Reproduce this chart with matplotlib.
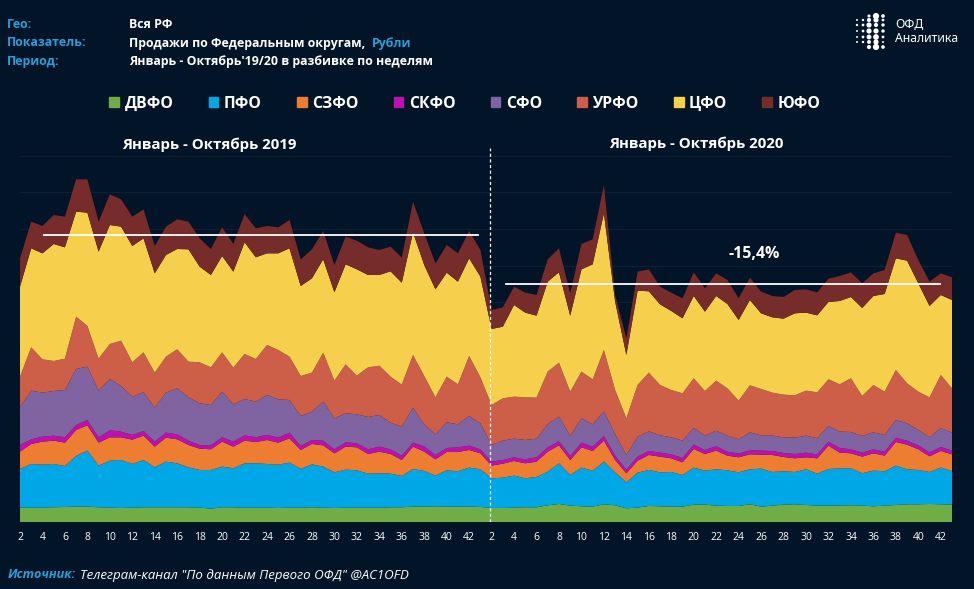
import numpy as np
import matplotlib
matplotlib.use('Agg')
import matplotlib.pyplot as plt
from matplotlib.patches import Patch

plt.rcParams['font.family'] = ['Open Sans', 'DejaVu Sans']

# no y axis on the source chart, so values are in arbitrary units
dvfo_19 = [44,44,44,45,46,47,47,45,44,43,44,45,45,45,45,45,44,41,45,45,44,44,44,43,44,44,45,44,43,44,44,44,44,45,45,47,47,48,47,47,47,46]
pfo_19 = [116,131,129,130,123,152,168,125,141,144,131,142,120,137,132,120,113,116,122,117,133,133,131,130,135,116,129,123,107,114,112,102,103,101,94,113,107,92,109,106,117,113]
szfo_19 = [52,60,69,70,70,78,76,69,70,68,73,73,62,72,72,67,64,62,75,65,68,64,72,66,73,57,61,64,57,69,69,59,65,59,48,67,58,49,55,58,53,48]
skfo_19 = [20,14,15,15,16,15,16,16,21,17,14,14,15,15,15,13,11,12,13,15,16,14,15,15,17,12,12,14,12,13,12,14,15,14,13,12,16,13,12,14,13,12]
sfo_19 = [113,146,132,134,142,168,160,140,154,137,115,116,102,120,138,130,125,121,137,112,109,107,120,115,98,90,85,117,93,87,87,97,95,80,87,104,66,62,77,69,89,78]
urfo_19 = [92,130,100,90,94,157,122,96,105,136,103,120,105,108,117,107,123,113,118,110,135,128,150,148,130,120,117,147,113,147,116,149,148,138,126,159,145,111,137,120,180,138]
cfo_19 = [270,297,318,351,334,315,340,321,357,342,349,342,298,305,301,337,287,277,289,288,335,305,275,290,325,270,283,280,265,300,319,277,272,316,306,368,333,324,312,308,293,302]
yufo_19 = [85,80,82,87,92,97,100,90,92,82,88,87,82,85,89,83,85,78,86,83,85,87,82,78,85,80,87,85,82,83,86,83,75,74,75,92,95,78,83,85,82,80]

dvfo_20 = [43,43,44,45,45,51,55,50,48,47,54,51,42,44,49,48,47,47,53,53,50,49,49,54,47,50,53,54,52,50,50,50,51,50,48,50,52,54,54,55,54,53]
pfo_20 = [89,91,96,87,91,101,122,92,116,108,128,99,78,105,108,102,104,95,111,102,109,107,101,105,114,101,100,97,107,96,110,112,111,97,107,103,118,105,103,96,110,101]
szfo_20 = [38,42,44,45,46,60,54,45,61,59,63,37,27,36,45,47,41,38,56,50,56,44,45,45,42,51,43,41,36,46,70,47,45,50,52,47,71,74,62,47,50,50]
skfo_20 = [12,11,11,12,13,13,12,12,14,13,14,13,11,12,12,12,12,13,13,12,13,12,11,12,12,12,12,13,14,12,12,14,12,12,12,12,12,12,12,12,12,11]
sfo_20 = [50,58,56,58,56,70,74,60,73,67,73,64,44,60,59,52,51,52,50,43,47,48,43,54,45,46,47,49,51,48,47,49,52,50,51,50,54,52,46,45,57,54]
urfo_20 = [120,127,126,128,123,157,162,133,140,135,185,133,110,155,176,151,142,142,149,134,150,142,116,141,140,129,128,127,135,138,140,142,161,120,142,130,150,120,115,120,159,133]
cfo_20 = [228,215,275,254,246,270,271,228,307,345,410,265,190,283,244,242,237,225,247,238,254,253,242,256,227,226,228,246,234,231,232,250,244,264,267,293,335,368,325,274,240,265]
yufo_20 = [57,58,55,60,62,67,72,67,76,75,85,20,50,57,66,53,55,60,71,70,68,72,65,67,65,64,65,70,70,69,70,75,74,74,68,72,77,77,70,73,65,68]

names = ['ДВФО', 'ПФО', 'СЗФО', 'СКФО', 'СФО', 'УРФО', 'ЦФО', 'ЮФО']
colors = ['#70ad47', '#00a7e7', '#ed7d31', '#c00fb0', '#8064a2', '#cd5f49', '#f6d04d', '#752c2a']
weeks = list(range(2, 44))
avg_19 = 862
avg_20 = 715
change = '-15,4%'

BG = '#021427'
BLUE = '#2a9fd6'

series = [dvfo_19 + dvfo_20, pfo_19 + pfo_20, szfo_19 + szfo_20, skfo_19 + skfo_20,
          sfo_19 + sfo_20, urfo_19 + urfo_20, cfo_19 + cfo_20, yufo_19 + yufo_20]
x = np.arange(len(weeks) * 2)

fig = plt.figure(figsize=(9.74, 5.89), dpi=100, facecolor=BG)
ax = fig.add_axes([20 / 974, 1 - 522.3 / 589, 932 / 974, 374.3 / 589], facecolor=BG)

ax.stackplot(x, series, colors=colors, linewidth=0, zorder=2)
ax.set_xlim(0, x[-1])
ax.set_ylim(0, 1123)

ax.set_yticks(np.arange(110, 1101, 110))
ax.grid(axis='y', color='#0c2034', lw=1, zorder=1)
ax.tick_params(axis='y', length=0, labelleft=False)
ax.tick_params(axis='x', length=0, pad=7, labelsize=7.5, labelcolor='white')
for s in ax.spines.values():
    s.set_visible(False)

ticks = list(x[::2])
ax.set_xticks(ticks)
ax.set_xticklabels([(weeks * 2)[i] for i in ticks])

# average lines and the border between the years
ax.plot([2.1, 40.8], [avg_19, avg_19], color='white', lw=1.3, zorder=4)
ax.plot([43.3, 81.9], [avg_20, avg_20], color='white', lw=1.3, zorder=4)
ax.axvline(41.85, color='white', lw=0.9, ls=(0, (2.5, 2)), zorder=4)

ax.text(65.4, 805, change, color='white', fontsize=11.4, fontweight='bold', ha='center', va='center')


def px_text(px, py, s, **kw):
    kw.setdefault('fontsize', 8.9)
    kw.setdefault('fontweight', 'bold')
    kw.setdefault('color', 'white')
    return fig.text(px / 974, 1 - py / 589, s, va='center', **kw)


px_text(7, 24, 'Гео:', color=BLUE)
px_text(7, 43, 'Показатель:', color=BLUE)
px_text(7, 62, 'Период:', color=BLUE)
px_text(129, 24, 'Вся РФ')
px_text(129, 43, 'Продажи по Федеральным округам,')
px_text(372, 43, 'Рубли', color=BLUE)
px_text(129, 62, "Январь - Октябрь'19/20 в разбивке по неделям")

px_text(209, 145, 'Январь - Октябрь 2019', ha='center', fontsize=10.8)
px_text(696, 144, 'Январь - Октябрь 2020', ha='center', fontsize=10.8)

px_text(8, 575, 'Источник:', color=BLUE, style='italic', fontsize=9.1)
px_text(80, 575, 'Телеграм-канал "По данным Первого ОФД" @AC1OFD', style='italic', fontweight='normal', fontsize=9.55)

handles = [Patch(color=c, label=n) for c, n in zip(colors, names)]
fig.legend(handles=handles, ncol=8, loc='center', bbox_to_anchor=(465 / 974, 1 - 103.8 / 589),
           frameon=False, labelcolor='white', columnspacing=2.24,
           handlelength=0.62, handleheight=0.62, handletextpad=0.35,
           prop={'size': 11.3, 'weight': 'bold'})

# logo
logo = fig.add_axes([0, 0, 1, 1], facecolor='none')
logo.set_xlim(0, 974)
logo.set_ylim(589, 0)
logo.axis('off')
dot_x = [857, 863, 869, 876, 883]
dot_y = [16, 20, 25, 31, 37, 42, 47]
dot_size = [[0, 0, 5, 20, 7],
            [2, 3, 9, 14, 4],
            [3, 4, 14, 9, 6],
            [2, 4, 14, 14, 6],
            [2, 4, 12, 17, 4],
            [2, 3, 8, 14, 2],
            [0, 0, 9, 20, 7]]
for row, yy in zip(dot_size, dot_y):
    logo.scatter(dot_x, [yy] * 5, s=row, color='white', linewidths=0)

px_text(895, 24, 'ОФД', fontsize=8.8, fontweight='normal', family='Noto Sans')
px_text(895, 38, 'Аналитика', fontsize=8.8, fontweight='normal', family='Noto Sans')

fig.savefig('out.png', dpi=100, facecolor=BG)
